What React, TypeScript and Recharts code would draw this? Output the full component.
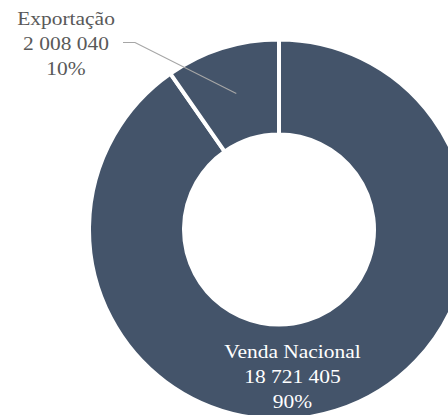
import { PieChart, Pie, Cell } from 'recharts';

const CATEGORIES = ['Venda Nacional', 'Exportação'];
const VALUES = [18721405, 2008040];
const COLORS = ['#44546A', '#44546A'];

const data = CATEGORIES.map((name, i) => ({ name, value: VALUES[i] }));
const total = VALUES.reduce((a, b) => a + b, 0);

const fmt = (v: number) => String(v).replace(/\B(?=(\d{3})+(?!\d))/g, ' ');
const RAD = Math.PI / 180;

// reference text is slightly stretched horizontally
const Line = ({ x, y, fill, children }: any) => (
  <text
    transform={`translate(${x} ${y}) scale(1.13 1)`}
    x={0}
    y={0}
    textAnchor="middle"
    fill={fill}
    fontFamily="Liberation Serif"
    fontSize={19}
  >
    {children}
  </text>
);

const renderLabel = (props: any) => {
  const { cx, cy, midAngle, innerRadius, outerRadius, index, value } = props;
  const pct = `${Math.round((value / total) * 100)}%`;
  const lines = [CATEGORIES[index], fmt(value), pct];

  if (index === 1) {
    // outside label with leader line, Excel-style
    const r = (innerRadius + outerRadius) / 2;
    const ex = cx + r * Math.cos(-midAngle * RAD);
    const ey = cy + r * Math.sin(-midAngle * RAD);
    const ly = cy - 187;
    const lx = cx - 144;
    const tx = cx - 213;
    return (
      <g>
        <polyline
          points={`${lx - 12},${ly} ${lx},${ly} ${ex},${ey}`}
          fill="none"
          stroke="#A6A6A6"
          strokeWidth={1.2}
        />
        {lines.map((t, i) => (
          <Line key={i} x={tx} y={cy - 204.5 + i * 25} fill="#595959">
            {t}
          </Line>
        ))}
      </g>
    );
  }

  return (
    <g>
      {lines.map((t, i) => (
        <Line key={i} x={cx + 13.5} y={cy + 128.5 + i * 25} fill="#ffffff">
          {t}
        </Line>
      ))}
    </g>
  );
};

export default function App() {
  return (
    <div style={{ position: 'absolute', left: 0, top: 0, width: 448, height: 415, background: '#fff' }}>
      <PieChart width={448} height={415} margin={{ top: 0, right: 0, bottom: 0, left: 0 }}>
        <Pie
          data={data}
          dataKey="value"
          cx={279}
          cy={229.5}
          innerRadius={95}
          outerRadius={190}
          startAngle={90}
          endAngle={-270}
          stroke="#ffffff"
          strokeWidth={4}
          label={renderLabel}
          labelLine={false}
          isAnimationActive={false}
        >
          {data.map((_, i) => (
            <Cell key={i} fill={COLORS[i]} />
          ))}
        </Pie>
      </PieChart>
    </div>
  );
}
